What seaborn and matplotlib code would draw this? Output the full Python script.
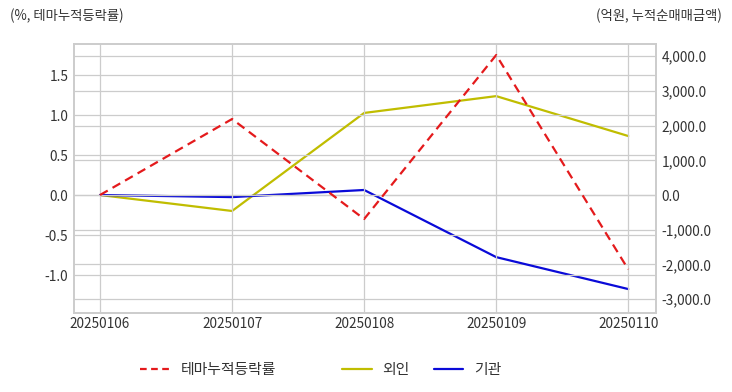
import pandas as pd
import numpy as np
import matplotlib.pyplot as plt
import seaborn as sns
from matplotlib.lines import Line2D

sns.set_theme(style="whitegrid")
plt.rcParams['font.family'] = ['Noto Sans CJK KR', 'DejaVu Sans']

dates = ["20250106", "20250107", "20250108", "20250109", "20250110"]
theme_rate = [0.0, 0.95, -0.30, 1.75, -0.93]       # %, left axis
foreign = [0.0, -460.0, 2365.0, 2850.0, 1700.0]     # 억원, right axis
institution = [0.0, -60.0, 145.0, -1790.0, -2710.0]

df = pd.DataFrame({"date": dates, "theme": theme_rate,
                   "foreign": foreign, "inst": institution})
df["x"] = np.arange(len(dates))

RED = "#e41a1c"
YEL = "#c0bd00"
BLU = "#0a0ad8"
GRID = "#cccccc"
TXT = "#333333"

fig = plt.figure(figsize=(7.32, 3.92), dpi=100)
ax = fig.add_axes([74 / 732, 1 - 313 / 392, (656 - 74) / 732, (313 - 44) / 392])
ax2 = ax.twinx()

sns.lineplot(data=df, x="x", y="theme", ax=ax, color=RED, linewidth=1.6)
ax.lines[0].set_dashes([4, 2.5])
sns.lineplot(data=df, x="x", y="foreign", ax=ax2, color=YEL, linewidth=1.6)
sns.lineplot(data=df, x="x", y="inst", ax=ax2, color=BLU, linewidth=1.6)

ax.set_xlim(-0.197, 4.21)
ax.set_ylim(-1.475, 1.888)
ax2.set_ylim(-3400, 4352)
ax.set_yticks([-1.0, -0.5, 0.0, 0.5, 1.0, 1.5])
ax2.set_yticks([-3000, -2000, -1000, 0, 1000, 2000, 3000, 4000])
ax2.set_yticklabels([f"{v:,.1f}" for v in ax2.get_yticks()])
ax.set_yticklabels([f"{v:.1f}" for v in ax.get_yticks()])
ax.set_xticks(df["x"])
ax.set_xticklabels(dates)

for a in (ax, ax2):
    a.set_xlabel("")
    a.set_ylabel("")
    a.tick_params(length=0, labelsize=9.8, colors=TXT, pad=4)
    for s in a.spines.values():
        s.set_color(GRID)
        s.set_linewidth(1.2)
ax.tick_params(axis="x", pad=3)
ax.grid(True, color=GRID, linewidth=0.9)
ax2.grid(True, axis="y", color=GRID, linewidth=0.9)
ax2.grid(False, axis="x")
ax.set_zorder(ax2.get_zorder() + 1)
ax.patch.set_visible(False)
ax2.set_facecolor("white")

fig.text(10 / 732, 1 - 16 / 392, "(%, 테마누적등락률)", fontsize=9.6, color=TXT, va="center")
fig.text(722 / 732, 1 - 16 / 392, "(억원, 누적순매매금액)", fontsize=9.6, color=TXT,
         va="center", ha="right")

h1 = [Line2D([], [], color=RED, linewidth=1.6, dashes=[3, 2])]
fig.legend(h1, ["테마누적등락률"], loc="center left",
           bbox_to_anchor=(127 / 732, 1 - 370 / 392), frameon=False,
           fontsize=10.7, handlelength=2.0, handletextpad=0.7, labelcolor=TXT)
h2 = [Line2D([], [], color=YEL, linewidth=1.6), Line2D([], [], color=BLU, linewidth=1.6)]
fig.legend(h2, ["외인", "기관"], loc="center left", ncol=2,
           bbox_to_anchor=(329 / 732, 1 - 370 / 392), frameon=False,
           fontsize=10.7, handlelength=2.0, handletextpad=0.7,
           columnspacing=1.6, labelcolor=TXT)

fig.savefig("out.png", dpi=100)
